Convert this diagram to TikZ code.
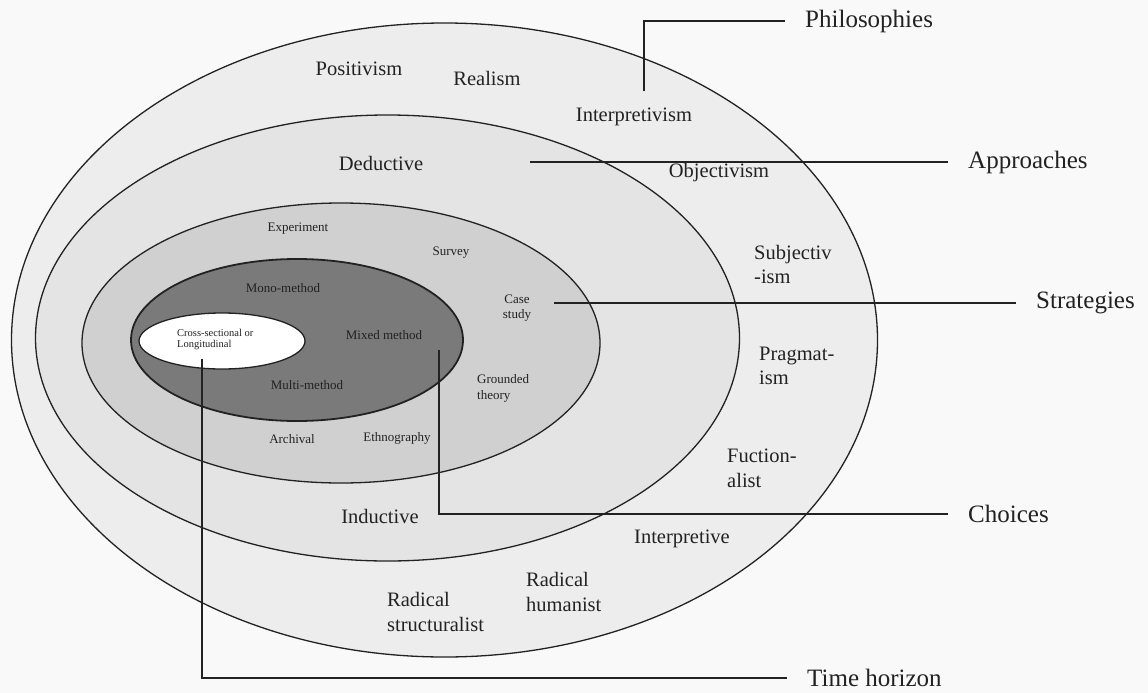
\documentclass[tikz,border=0pt]{standalone}
\usepackage{fontspec}
\setmainfont{Liberation Serif}
\definecolor{pagebg}{HTML}{F9F9F9}
\definecolor{philfill}{HTML}{EDEDED}
\definecolor{apprfill}{HTML}{E4E4E4}
\definecolor{stratfill}{HTML}{D0D0D0}
\definecolor{choicefill}{HTML}{7A7A7A}
\definecolor{ink}{HTML}{222222}
\begin{document}
\begin{tikzpicture}[x=1pt,y=-1pt,
  ring/.style={draw=ink, line width=1.3pt},
  lead/.style={draw=ink, line width=1.6pt, shorten >=20pt},
  layerlabel/.style={font=\fontsize{25}{27}\selectfont, anchor=west, inner sep=0pt, text=ink},
  ringtext/.style={font=\fontsize{20.5}{24.5}\selectfont, inner sep=0pt, text=ink, align=left},
  smalltext/.style={font=\fontsize{13}{15.5}\selectfont, inner sep=0pt, text=ink, align=left},
  tinytext/.style={font=\fontsize{10.5}{11.5}\selectfont, inner sep=0pt, text=ink, align=left}
]
% page and fixed frame
\fill[pagebg] (0,0) rectangle (1148,693);
\useasboundingbox (0,0) rectangle (1148,693);

% the onion layers, outermost first
\path[ring, fill=philfill]   (444.5,340) ellipse [x radius=433pt, y radius=317pt];
\path[ring, fill=apprfill]   (387.5,338) ellipse [x radius=352pt, y radius=223pt];
\path[ring, fill=stratfill]  (341,343)   ellipse [x radius=259pt, y radius=140pt];
\path[ring, line width=1.8pt, fill=choicefill] (297,340) ellipse [x radius=166pt, y radius=81pt];
\path[ring, fill=white]      (222,341)   ellipse [x radius=83pt, y radius=28pt];

% layer names on the right
\node[layerlabel] (philosophies) at (805,21)  {Philosophies};
\node[layerlabel] (approaches)   at (968,162) {Approaches};
\node[layerlabel] (strategies)   at (1036,303){Strategies};
\node[layerlabel] (choices)      at (968,514) {Choices};
\node[layerlabel] (timehorizon)  at (807,678) {Time horizon};

% start points of the leader lines
\coordinate (philstart)  at (644,91);
\coordinate (apprstart)  at (530,162);
\coordinate (stratstart) at (554,303);
\coordinate (choicestart) at (439,350);
\coordinate (timestart)  at (202,359);

% leader lines
\draw[lead] (philstart) |- (philosophies.west);
\draw[lead] (apprstart) -- (approaches.west);
\draw[lead] (stratstart) -- (strategies.west);
\draw[lead] (choicestart) |- (choices.west);
\draw[lead] (timestart) |- (timehorizon.west);

% philosophies ring
\node[ringtext] (positivism)   at (359,69)  {Positivism};
\node[ringtext] (realism)      at (487,78)  {Realism};
\node[ringtext] (interpretivism) at (634,117) {Interpretivism};
\node[ringtext] (objectivism)  at (719,173) {Objectivism};
\node[ringtext, anchor=west] (subjectivism) at (754,264.5) {Subjectiv\\-ism};
\node[ringtext, anchor=west] (pragmatism)   at (759,366)   {Pragmat-\\ism};
\node[ringtext, anchor=west] (functionalist) at (727,468.5) {Fuction-\\alist};
\node[ringtext] (interpretive) at (682,539) {Interpretive};
\node[ringtext, anchor=west] (radhumanist) at (526,592) {Radical\\humanist};
\node[ringtext, anchor=west] (radstruct)   at (387,612) {Radical\\structuralist};

% approaches ring
\node[ringtext] (deductive) at (381,163) {Deductive};
\node[ringtext] (inductive) at (380,516) {Inductive};

% strategies ring
\node[smalltext] (experiment) at (298,229) {Experiment};
\node[smalltext] (survey)     at (451,253) {Survey};
\node[smalltext, align=center] (casestudy) at (517,308) {Case\\study};
\node[smalltext, anchor=west] (grounded) at (477,388.5) {Grounded\\theory};
\node[smalltext] (archival)    at (292,439) {Archival};
\node[smalltext] (ethnography) at (397,438) {Ethnography};

% choices ring
\node[smalltext] (monomethod)  at (283,288) {Mono-method};
\node[smalltext] (mixedmethod) at (384,335) {Mixed method};
\node[smalltext] (multimethod) at (307,385) {Multi-method};

% time horizon core
\node[tinytext, anchor=west] (crosslong) at (177,339.5) {Cross-sectional or\\Longitudinal};
\end{tikzpicture}
\end{document}
